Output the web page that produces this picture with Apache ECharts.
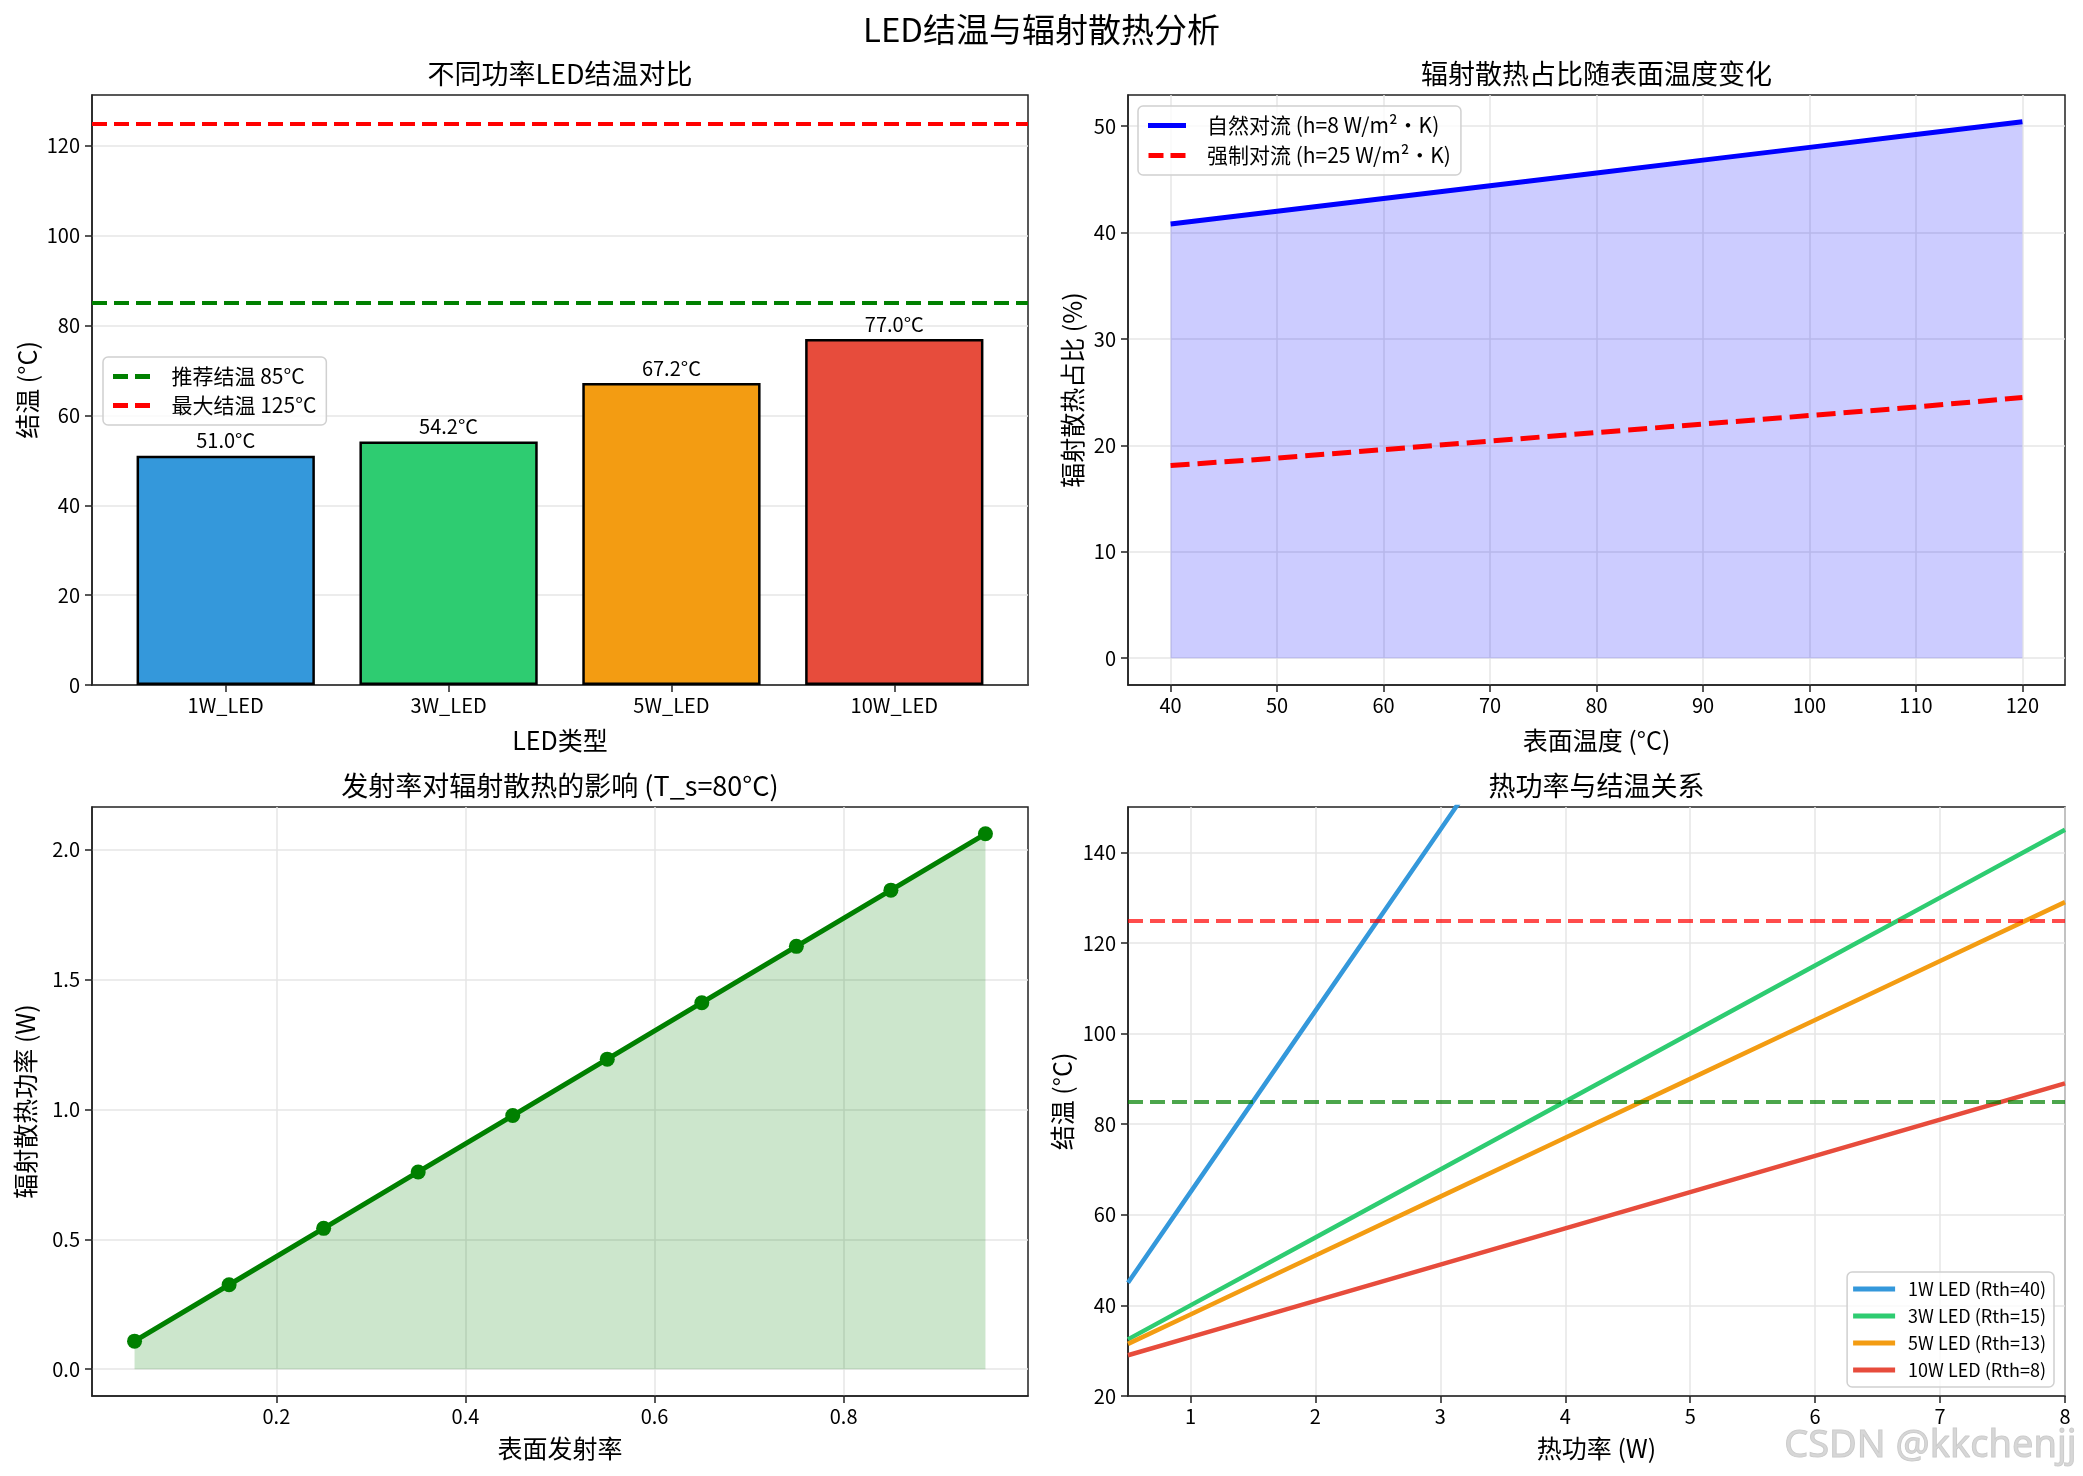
<!DOCTYPE html>
<html lang="zh">
<head>
<meta charset="UTF-8">
<title>LED结温与辐射散热分析</title>
<script src="https://cdn.jsdelivr.net/npm/echarts@6/dist/echarts.min.js"></script>
<style>
  * { margin: 0; padding: 0; }
  body { background: #fff; }
  #chart { width: 2083px; height: 1476px; }
</style>
</head>
<body>
<div id="chart"></div>
<script>
// 图1：不同功率LED结温
const ledTypes = ['1W_LED', '3W_LED', '5W_LED', '10W_LED'];
const junctionTemps = [51.0, 54.2, 67.2, 77.0];
const recommendTj = 85;
const maxTj = 125;

// 图2：辐射散热占比随表面温度变化
const surfaceTemps = [40, 50, 60, 70, 80, 90, 100, 110, 120];
const naturalRatio = [40.8, 42.0, 43.2, 44.4, 45.6, 46.8, 48.0, 49.2, 50.4];
const forcedRatio = [18.1, 18.8, 19.6, 20.4, 21.2, 22.0, 22.8, 23.6, 24.5];

// 图3：发射率对辐射散热的影响
const emissivity = [0.05, 0.15, 0.25, 0.35, 0.45, 0.55, 0.65, 0.75, 0.85, 0.95];
const radPower = [0.108, 0.325, 0.542, 0.759, 0.976, 1.193, 1.410, 1.627, 1.843, 2.060];

// 图4：热功率与结温关系
const heatPower = [0.5, 1, 2, 3, 4, 5, 6, 7, 8];
const tj1W = [45, 65, 105, 145, 185, 225, 265, 305, 345];
const tj3W = [32.5, 40, 55, 70, 85, 100, 115, 130, 145];
const tj5W = [31.5, 38, 51, 64, 77, 90, 103, 116, 129];
const tj10W = [29, 33, 41, 49, 57, 65, 73, 81, 89];
const ledLegend = ['1W LED (Rth=40)', '3W LED (Rth=15)', '5W LED (Rth=13)', '10W LED (Rth=8)'];

// 刻度
const ticks2x = [40, 50, 60, 70, 80, 90, 100, 110, 120];
const ticks2y = [0, 10, 20, 30, 40, 50];
const ticks1y = [0, 20, 40, 60, 80, 100, 120];
const ticks3x = [0.2, 0.4, 0.6, 0.8];
const ticks3y = [0, 0.5, 1.0, 1.5, 2.0];
const ticks4x = [1, 2, 3, 4, 5, 6, 7, 8];
const ticks4y = [20, 40, 60, 80, 100, 120, 140];

// 样式
const FONT = 'Noto Sans CJK SC';
const ledColors = ['#3498db', '#2ecc71', '#f39c12', '#e74c3c'];
const GRIDS = [
    { left: 92, top: 95, width: 936, height: 590 },
    { left: 1128, top: 95, width: 937, height: 590 },
    { left: 92, top: 807, width: 936, height: 589 },
    { left: 1128, top: 807, width: 937, height: 589 }
];
const dashIcon = 'path://M0,0H15V5H0Z M22,0H37V5H22Z';
const gridLine = { show: true, lineStyle: { color: '#e6e6e6', width: 1.5 } };

function axis(idx, opt) {
    const ax = {
        gridIndex: idx,
        type: 'value',
        min: opt.min,
        max: opt.max,
        axisLine: { show: true, onZero: false, lineStyle: { color: '#222', width: 1.5 } },
        axisTick: { show: true, length: 7, customValues: opt.ticks, lineStyle: { color: '#222', width: 1.5 } },
        axisLabel: {
            customValues: opt.ticks, fontSize: 20, color: '#000', fontFamily: FONT,
            margin: opt.margin || 10, formatter: opt.fmt || (v => String(v))
        },
        splitLine: opt.split === false ? { show: false } : gridLine,
        name: opt.name,
        nameLocation: 'middle',
        nameGap: opt.gap,
        nameTextStyle: { fontSize: 25, color: '#000', fontFamily: FONT }
    };
    return ax;
}

function subTitle(text, idx) {
    const g = GRIDS[idx];
    return {
        text: text, left: g.left + g.width / 2, top: g.top - 35, textAlign: 'center', padding: 0,
        textStyle: { fontSize: 27, fontWeight: 'normal', color: '#000', fontFamily: FONT }
    };
}

const legendBase = {
    orient: 'vertical',
    selectedMode: false,
    itemStyle: { borderWidth: 0 },
    backgroundColor: 'rgba(255,255,255,0.8)',
    borderColor: '#d0d0d0',
    borderWidth: 1.5,
    borderRadius: 5
};

const barWidthPx = 0.8 / 4.2 * GRIDS[0].width;

const chart = echarts.init(document.getElementById('chart'));
const option = {
    animation: false,
    backgroundColor: '#fff',
    textStyle: { fontFamily: FONT },
    title: [
        {
            text: 'LED结温与辐射散热分析', left: 'center', top: 13, padding: 0,
            textStyle: { fontSize: 33, fontWeight: 'normal', color: '#000', fontFamily: FONT }
        },
        subTitle('不同功率LED结温对比', 0),
        subTitle('辐射散热占比随表面温度变化', 1),
        subTitle('发射率对辐射散热的影响 (T_s=80°C)', 2),
        subTitle('热功率与结温关系', 3)
    ],
    grid: GRIDS.map(g => Object.assign({
        show: true, borderColor: '#222', borderWidth: 1.5, outerBoundsMode: 'none'
    }, g)),
    xAxis: [
        axis(0, {
            min: -0.6, max: 3.6, ticks: ledTypes.map((_, i) => i), fmt: v => ledTypes[v],
            split: false, name: 'LED类型', gap: 43
        }),
        axis(1, { min: 36, max: 124, ticks: ticks2x, name: '表面温度 (°C)', gap: 43 }),
        axis(2, { min: 0.005, max: 0.995, ticks: ticks3x, fmt: v => v.toFixed(1), name: '表面发射率', gap: 40 }),
        axis(3, { min: 0.5, max: 8, ticks: ticks4x, name: '热功率 (W)', gap: 40 })
    ],
    yAxis: [
        axis(0, { min: 0, max: 131.3, ticks: ticks1y, name: '结温 (°C)', gap: 52, margin: 12 }),
        axis(1, { min: -2.52, max: 52.92, ticks: ticks2y, name: '辐射散热占比 (%)', gap: 43, margin: 12 }),
        axis(2, { min: -0.103, max: 2.163, ticks: ticks3y, fmt: v => v.toFixed(1), name: '辐射散热功率 (W)', gap: 54, margin: 12 }),
        axis(3, { min: 20, max: 150, ticks: ticks4y, name: '结温 (°C)', gap: 53, margin: 12 })
    ],
    legend: [
        Object.assign({}, legendBase, {
            left: 103, top: 357, padding: [9, 10, 9, 10],
            itemWidth: 38, itemHeight: 5, itemGap: 8,
            data: [
                { name: '推荐结温 85°C', icon: dashIcon },
                { name: '最大结温 125°C', icon: dashIcon }
            ],
            textStyle: { fontSize: 21, color: '#000', fontFamily: FONT, padding: [0, 0, 0, 16] }
        }),
        Object.assign({}, legendBase, {
            left: 1138, top: 106, padding: [9, 10, 9, 10],
            itemWidth: 38, itemHeight: 5, itemGap: 9,
            data: [
                { name: '自然对流 (h=8 W/m²·K)', icon: 'rect' },
                { name: '强制对流 (h=25 W/m²·K)', icon: dashIcon }
            ],
            textStyle: { fontSize: 21, color: '#000', fontFamily: FONT, padding: [0, 0, 0, 16] }
        }),
        Object.assign({}, legendBase, {
            right: 29, bottom: 89, padding: [8, 8, 8, 6],
            itemWidth: 42, itemHeight: 5, itemGap: 9,
            data: ledLegend.map(n => ({ name: n, icon: 'rect' })),
            textStyle: { fontSize: 18, color: '#000', fontFamily: FONT, padding: [0, 0, 0, 8] }
        })
    ],
    graphic: [{
        type: 'text', right: 6, bottom: 10, z: 100,
        style: {
            text: 'CSDN @kkchenjj', fontSize: 38, fontFamily: 'Noto Sans',
            fill: 'rgba(205,205,205,0.8)', stroke: 'rgba(150,150,150,0.5)', lineWidth: 1
        }
    }],
    series: [
        // 图1
        {
            type: 'bar', xAxisIndex: 0, yAxisIndex: 0, barWidth: barWidthPx,
            data: junctionTemps.map((t, i) => ({ value: [i, t], itemStyle: { color: ledColors[i] } })),
            itemStyle: { borderColor: '#000', borderWidth: 2.5 },
            label: {
                show: true, position: 'top', distance: 5, fontSize: 20, color: '#000', fontFamily: FONT,
                formatter: p => p.value[1].toFixed(1) + '°C'
            }
        },
        {
            type: 'line', name: '推荐结温 85°C', xAxisIndex: 0, yAxisIndex: 0, data: [],
            color: 'green', itemStyle: { color: 'green' },
            markLine: {
                silent: true, symbol: ['none', 'none'], label: { show: false },
                lineStyle: { color: 'green', width: 4, type: [15, 7] },
                data: [{ yAxis: recommendTj }]
            }
        },
        {
            type: 'line', name: '最大结温 125°C', xAxisIndex: 0, yAxisIndex: 0, data: [],
            color: 'red', itemStyle: { color: 'red' },
            markLine: {
                silent: true, symbol: ['none', 'none'], label: { show: false },
                lineStyle: { color: 'red', width: 4, type: [15, 7] },
                data: [{ yAxis: maxTj }]
            }
        },
        // 图2
        {
            type: 'line', name: '自然对流 (h=8 W/m²·K)', xAxisIndex: 1, yAxisIndex: 1,
            data: surfaceTemps.map((t, i) => [t, naturalRatio[i]]),
            symbol: 'none', color: 'blue', itemStyle: { color: 'blue' },
            lineStyle: { color: 'blue', width: 5 },
            areaStyle: { color: 'rgba(0,0,255,0.2)', opacity: 1 }
        },
        {
            type: 'line', name: '强制对流 (h=25 W/m²·K)', xAxisIndex: 1, yAxisIndex: 1,
            data: surfaceTemps.map((t, i) => [t, forcedRatio[i]]),
            symbol: 'none', color: 'red', itemStyle: { color: 'red' },
            lineStyle: { color: 'red', width: 5, type: [19, 8] }
        },
        // 图3
        {
            type: 'line', xAxisIndex: 2, yAxisIndex: 2,
            data: emissivity.map((e, i) => [e, radPower[i]]),
            symbol: 'circle', symbolSize: 15, color: 'green',
            itemStyle: { color: 'green' },
            lineStyle: { color: 'green', width: 5 },
            areaStyle: { color: 'rgba(0,128,0,0.2)', opacity: 1 }
        },
        // 图4
        ...[tj1W, tj3W, tj5W, tj10W].map((arr, k) => ({
            type: 'line', name: ledLegend[k], xAxisIndex: 3, yAxisIndex: 3,
            data: heatPower.map((p, i) => [p, arr[i]]),
            symbol: 'none', color: ledColors[k], itemStyle: { color: ledColors[k] },
            lineStyle: { color: ledColors[k], width: 4.5 },
            z: 3
        })),
        {
            type: 'line', xAxisIndex: 3, yAxisIndex: 3, data: [],
            markLine: {
                silent: true, symbol: ['none', 'none'], label: { show: false },
                data: [
                    { yAxis: recommendTj, lineStyle: { color: 'green', opacity: 0.7, width: 4, type: [15, 7] } },
                    { yAxis: maxTj, lineStyle: { color: 'red', opacity: 0.7, width: 4, type: [15, 7] } }
                ]
            }
        }
    ]
};
chart.setOption(option);
window.addEventListener('resize', function () { chart.resize(); });
</script>
</body>
</html>
